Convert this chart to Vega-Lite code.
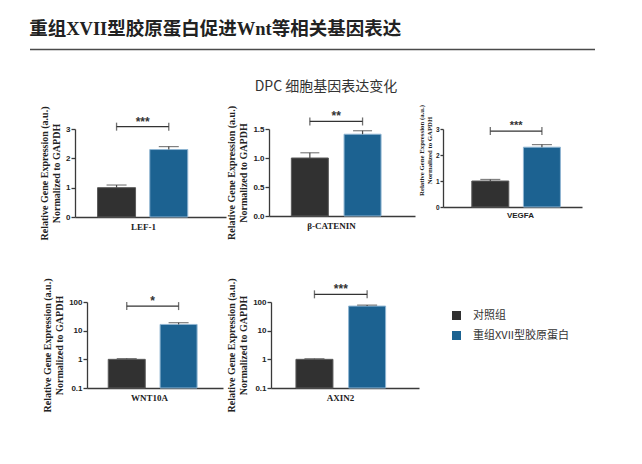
{
  "$schema": "https://vega.github.io/schema/vega-lite/v6.json",
  "background": "white",
  "padding": {"left": 29, "top": 20, "right": 5, "bottom": 5},
  "config": {
    "view": {"stroke": null},
    "font": "Liberation Sans",
    "axis": {"domainColor": "#3a3a3a", "domainWidth": 1.3, "tickColor": "#3a3a3a", "tickWidth": 1.3, "grid": false, "labelColor": "#222222", "titleColor": "#222222"},
    "axisY": {"tickSize": 4, "labelFont": "Liberation Sans", "labelFontWeight": "bold", "labelFontSize": 8, "labelPadding": 1, "labelOverlap": false, "titleFont": "Liberation Serif", "titleFontWeight": "bold", "titleFontSize": 10, "titleLineHeight": 12, "titlePadding": 4},
    "axisX": {"labels": false, "ticks": false, "titleFont": "Liberation Serif", "titleFontWeight": "bold", "titleFontSize": 9, "titlePadding": 5}
  },
  "datasets": {
    "bars": [
      {"gene": "LEF-1", "group": "对照组", "pos": 1, "value": 1.0, "upper": 1.09},
      {"gene": "LEF-1", "group": "重组XVII型胶原蛋白", "pos": 2, "value": 2.3, "upper": 2.4},
      {"gene": "β-CATENIN", "group": "对照组", "pos": 1, "value": 1.0, "upper": 1.09},
      {"gene": "β-CATENIN", "group": "重组XVII型胶原蛋白", "pos": 2, "value": 1.41, "upper": 1.47},
      {"gene": "VEGFA", "group": "对照组", "pos": 1, "value": 1.0, "upper": 1.06},
      {"gene": "VEGFA", "group": "重组XVII型胶原蛋白", "pos": 2, "value": 2.3, "upper": 2.4},
      {"gene": "WNT10A", "group": "对照组", "pos": 1, "value": 1.0, "upper": 1.06},
      {"gene": "WNT10A", "group": "重组XVII型胶原蛋白", "pos": 2, "value": 16.5, "upper": 19},
      {"gene": "AXIN2", "group": "对照组", "pos": 1, "value": 1.0, "upper": 1.05},
      {"gene": "AXIN2", "group": "重组XVII型胶原蛋白", "pos": 2, "value": 72, "upper": 78}
    ],
    "sig": [
      {"gene": "LEF-1", "x1": 1, "x2": 2, "mid": 1.5, "level": 3.08, "label": "***"},
      {"gene": "β-CATENIN", "x1": 1, "x2": 2, "mid": 1.5, "level": 1.63, "label": "**"},
      {"gene": "VEGFA", "x1": 1, "x2": 2, "mid": 1.5, "level": 2.92, "label": "***"},
      {"gene": "WNT10A", "x1": 1, "x2": 2, "mid": 1.5, "level": 72, "label": "*"},
      {"gene": "AXIN2", "x1": 1, "x2": 2, "mid": 1.5, "level": 185, "label": "***"}
    ]
  },
  "spacing": 29,
  "vconcat": [
    {
      "width": 565,
      "height": 1,
      "title": {"text": "重组XVII型胶原蛋白促进Wnt等相关基因表达", "anchor": "start", "fontSize": 18.5, "font": "Liberation Serif, Noto Sans CJK SC", "fontWeight": "bold", "color": "#222222", "offset": -9, "baseline": "bottom"},
      "data": {"values": [{"a": 0, "b": 1}]},
      "mark": {"type": "rule", "color": "#4a4a4a", "strokeWidth": 1.6},
      "encoding": {
        "x": {"field": "a", "type": "quantitative", "scale": {"domain": [0, 1]}, "axis": null},
        "x2": {"field": "b"}
      }
    },
    {
      "title": {"text": "DPC 细胞基因表达变化", "fontSize": 14, "font": "Noto Sans CJK SC", "fontWeight": "normal", "color": "#333333", "anchor": "middle", "offset": -4, "dx": 20, "baseline": "bottom"},
      "spacing": 38,
      "vconcat": [
        {
          "spacing": 3,
          "resolve": {"scale": {"color": "independent", "stroke": "independent"}, "legend": {"color": "independent", "stroke": "independent"}},
          "hconcat": [
            {"width": 6, "height": 1, "data": {"values": []}, "mark": "point"},
            {
              "spacing": 0,
              "resolve": {"scale": {"color": "independent", "stroke": "independent"}, "legend": {"color": "independent", "stroke": "independent"}},
              "hconcat": [
                {
                  "width": 151, "height": 88,
                  "layer": [
                    {"data": {"name": "bars"}, "transform": [{"filter": "datum.gene === 'LEF-1'"}],
                     "mark": {"type": "bar", "size": 38, "strokeWidth": 1},
                     "encoding": {
                       "x": {"field": "pos", "type": "quantitative", "scale": {"domain": [0.3, 3.0], "nice": false, "zero": false}, "axis": {"title": "LEF-1", "titleX": 68}},
                       "y": {"field": "value", "type": "quantitative", "scale": {"domain": [0, 3], "nice": false}, "axis": {"values": [0, 1, 2, 3], "tickCount": 10, "format": "d", "title": ["Relative Gene Expression (a.u.)", "Normalized to GAPDH"]}},
                       "color": {"field": "group", "type": "nominal", "scale": {"domain": ["对照组", "重组XVII型胶原蛋白"], "range": ["#313131", "#1c6291"]}, "legend": null},
                       "stroke": {"field": "group", "type": "nominal", "scale": {"domain": ["对照组", "重组XVII型胶原蛋白"], "range": ["#5a5a5a", "#8fb5d2"]}, "legend": null}
                     }},
                    {"data": {"name": "bars"}, "transform": [{"filter": "datum.gene === 'LEF-1'"}],
                     "mark": {"type": "rule", "color": "#4a4a4a", "strokeWidth": 1.2},
                     "encoding": {"x": {"field": "pos", "type": "quantitative"}, "y": {"field": "value", "type": "quantitative"}, "y2": {"field": "upper"}}},
                    {"data": {"name": "bars"}, "transform": [{"filter": "datum.gene === 'LEF-1'"}],
                     "mark": {"type": "tick", "orient": "horizontal", "size": 20, "thickness": 1.2, "color": "#4a4a4a"},
                     "encoding": {"x": {"field": "pos", "type": "quantitative"}, "y": {"field": "upper", "type": "quantitative"}}},
                    {"data": {"name": "sig"}, "transform": [{"filter": "datum.gene === 'LEF-1'"}],
                     "mark": {"type": "rule", "color": "#333333", "strokeWidth": 1.3},
                     "encoding": {"x": {"field": "x1", "type": "quantitative"}, "x2": {"field": "x2"}, "y": {"field": "level", "type": "quantitative"}}},
                    {"data": {"name": "sig"}, "transform": [{"filter": "datum.gene === 'LEF-1'"}],
                     "mark": {"type": "tick", "orient": "vertical", "size": 8, "thickness": 1.3, "color": "#333333"},
                     "encoding": {"x": {"field": "x1", "type": "quantitative"}, "y": {"field": "level", "type": "quantitative"}}},
                    {"data": {"name": "sig"}, "transform": [{"filter": "datum.gene === 'LEF-1'"}],
                     "mark": {"type": "tick", "orient": "vertical", "size": 8, "thickness": 1.3, "color": "#333333"},
                     "encoding": {"x": {"field": "x2", "type": "quantitative"}, "y": {"field": "level", "type": "quantitative"}}},
                    {"data": {"name": "sig"}, "transform": [{"filter": "datum.gene === 'LEF-1'"}],
                     "mark": {"type": "text", "fontSize": 12, "fontWeight": "bold", "dy": -5, "color": "#333333", "baseline": "middle"},
                     "encoding": {"x": {"field": "mid", "type": "quantitative"}, "y": {"field": "level", "type": "quantitative"}, "text": {"field": "label"}}}
                  ]
                },
                {
                  "width": 146, "height": 87,
                  "layer": [
                    {"data": {"name": "bars"}, "transform": [{"filter": "datum.gene === 'β-CATENIN'"}],
                     "mark": {"type": "bar", "size": 37, "strokeWidth": 1},
                     "encoding": {
                       "x": {"field": "pos", "type": "quantitative", "scale": {"domain": [0.32, 2.9], "nice": false, "zero": false}, "axis": {"title": "β-CATENIN", "titleX": 62}},
                       "y": {"field": "value", "type": "quantitative", "scale": {"domain": [0, 1.5], "nice": false}, "axis": {"values": [0, 0.5, 1, 1.5], "tickCount": 10, "format": ".1f", "title": ["Relative Gene Expression (a.u.)", "Normalized to GAPDH"]}},
                       "color": {"field": "group", "type": "nominal", "scale": {"domain": ["对照组", "重组XVII型胶原蛋白"], "range": ["#313131", "#1c6291"]}, "legend": null},
                       "stroke": {"field": "group", "type": "nominal", "scale": {"domain": ["对照组", "重组XVII型胶原蛋白"], "range": ["#5a5a5a", "#8fb5d2"]}, "legend": null}
                     }},
                    {"data": {"name": "bars"}, "transform": [{"filter": "datum.gene === 'β-CATENIN'"}],
                     "mark": {"type": "rule", "color": "#4a4a4a", "strokeWidth": 1.2},
                     "encoding": {"x": {"field": "pos", "type": "quantitative"}, "y": {"field": "value", "type": "quantitative"}, "y2": {"field": "upper"}}},
                    {"data": {"name": "bars"}, "transform": [{"filter": "datum.gene === 'β-CATENIN'"}],
                     "mark": {"type": "tick", "orient": "horizontal", "size": 19, "thickness": 1.2, "color": "#4a4a4a"},
                     "encoding": {"x": {"field": "pos", "type": "quantitative"}, "y": {"field": "upper", "type": "quantitative"}}},
                    {"data": {"name": "sig"}, "transform": [{"filter": "datum.gene === 'β-CATENIN'"}],
                     "mark": {"type": "rule", "color": "#333333", "strokeWidth": 1.3},
                     "encoding": {"x": {"field": "x1", "type": "quantitative"}, "x2": {"field": "x2"}, "y": {"field": "level", "type": "quantitative"}}},
                    {"data": {"name": "sig"}, "transform": [{"filter": "datum.gene === 'β-CATENIN'"}],
                     "mark": {"type": "tick", "orient": "vertical", "size": 8, "thickness": 1.3, "color": "#333333"},
                     "encoding": {"x": {"field": "x1", "type": "quantitative"}, "y": {"field": "level", "type": "quantitative"}}},
                    {"data": {"name": "sig"}, "transform": [{"filter": "datum.gene === 'β-CATENIN'"}],
                     "mark": {"type": "tick", "orient": "vertical", "size": 8, "thickness": 1.3, "color": "#333333"},
                     "encoding": {"x": {"field": "x2", "type": "quantitative"}, "y": {"field": "level", "type": "quantitative"}}},
                    {"data": {"name": "sig"}, "transform": [{"filter": "datum.gene === 'β-CATENIN'"}],
                     "mark": {"type": "text", "fontSize": 12, "fontWeight": "bold", "dy": -5, "color": "#333333", "baseline": "middle"},
                     "encoding": {"x": {"field": "mid", "type": "quantitative"}, "y": {"field": "level", "type": "quantitative"}, "text": {"field": "label"}}}
                  ]
                }
              ]
            },
            {
              "width": 139, "height": 78,
              "layer": [
                {"data": {"name": "bars"}, "transform": [{"filter": "datum.gene === 'VEGFA'"}],
                 "mark": {"type": "bar", "size": 37, "strokeWidth": 1},
                 "encoding": {
                   "x": {"field": "pos", "type": "quantitative", "scale": {"domain": [0.18, 2.68], "nice": false, "zero": false}, "axis": {"title": "VEGFA", "titleX": 77, "titleFont": "Liberation Sans", "titleFontSize": 8, "titlePadding": 4}},
                   "y": {"field": "value", "type": "quantitative", "scale": {"domain": [0, 3], "nice": false}, "axis": {"values": [0, 1, 2, 3], "tickCount": 10, "format": "d", "labelFontSize": 6.5, "tickSize": 3, "titleFontSize": 6.8, "titleLineHeight": 8, "titlePadding": 3, "titleY": 21, "title": ["Relative Gene Expression (a.u.)", "Normalized to GAPDH"]}},
                   "color": {"field": "group", "type": "nominal", "scale": {"domain": ["对照组", "重组XVII型胶原蛋白"], "range": ["#313131", "#1c6291"]}, "legend": null},
                   "stroke": {"field": "group", "type": "nominal", "scale": {"domain": ["对照组", "重组XVII型胶原蛋白"], "range": ["#5a5a5a", "#8fb5d2"]}, "legend": null}
                 }},
                {"data": {"name": "bars"}, "transform": [{"filter": "datum.gene === 'VEGFA'"}],
                 "mark": {"type": "rule", "color": "#4a4a4a", "strokeWidth": 1.2},
                 "encoding": {"x": {"field": "pos", "type": "quantitative"}, "y": {"field": "value", "type": "quantitative"}, "y2": {"field": "upper"}}},
                {"data": {"name": "bars"}, "transform": [{"filter": "datum.gene === 'VEGFA'"}],
                 "mark": {"type": "tick", "orient": "horizontal", "size": 20, "thickness": 1.2, "color": "#4a4a4a"},
                 "encoding": {"x": {"field": "pos", "type": "quantitative"}, "y": {"field": "upper", "type": "quantitative"}}},
                {"data": {"name": "sig"}, "transform": [{"filter": "datum.gene === 'VEGFA'"}],
                 "mark": {"type": "rule", "color": "#333333", "strokeWidth": 1.3},
                 "encoding": {"x": {"field": "x1", "type": "quantitative"}, "x2": {"field": "x2"}, "y": {"field": "level", "type": "quantitative"}}},
                {"data": {"name": "sig"}, "transform": [{"filter": "datum.gene === 'VEGFA'"}],
                 "mark": {"type": "tick", "orient": "vertical", "size": 8, "thickness": 1.3, "color": "#333333"},
                 "encoding": {"x": {"field": "x1", "type": "quantitative"}, "y": {"field": "level", "type": "quantitative"}}},
                {"data": {"name": "sig"}, "transform": [{"filter": "datum.gene === 'VEGFA'"}],
                 "mark": {"type": "tick", "orient": "vertical", "size": 8, "thickness": 1.3, "color": "#333333"},
                 "encoding": {"x": {"field": "x2", "type": "quantitative"}, "y": {"field": "level", "type": "quantitative"}}},
                {"data": {"name": "sig"}, "transform": [{"filter": "datum.gene === 'VEGFA'"}],
                 "mark": {"type": "text", "fontSize": 11, "fontWeight": "bold", "dy": -5, "color": "#333333", "baseline": "middle"},
                 "encoding": {"x": {"field": "mid", "type": "quantitative"}, "y": {"field": "level", "type": "quantitative"}, "text": {"field": "label"}}}
              ]
            }
          ]
        },
        {
          "spacing": 3,
          "resolve": {"scale": {"color": "independent", "stroke": "independent"}, "legend": {"color": "independent", "stroke": "independent"}},
          "hconcat": [
            {"width": 9, "height": 1, "data": {"values": []}, "mark": "point"},
            {
              "width": 136, "height": 86,
              "layer": [
                {"data": {"name": "bars"}, "transform": [{"filter": "datum.gene === 'WNT10A'"}],
                 "mark": {"type": "bar", "size": 37, "strokeWidth": 1},
                 "encoding": {
                   "x": {"field": "pos", "type": "quantitative", "scale": {"domain": [0.33, 2.76], "nice": false, "zero": false}, "axis": {"title": "WNT10A", "titleX": 62}},
                   "y": {"field": "value", "type": "quantitative", "scale": {"type": "log", "domain": [0.1, 100], "nice": false}, "axis": {"values": [0.1, 1, 10, 100], "tickCount": 10, "format": "~g", "title": ["Relative Gene Expression (a.u.)", "Normalized to GAPDH"]}},
                   "y2": {"datum": 0.1},
                   "color": {"field": "group", "type": "nominal", "scale": {"domain": ["对照组", "重组XVII型胶原蛋白"], "range": ["#313131", "#1c6291"]}, "legend": null},
                   "stroke": {"field": "group", "type": "nominal", "scale": {"domain": ["对照组", "重组XVII型胶原蛋白"], "range": ["#5a5a5a", "#8fb5d2"]}, "legend": null}
                 }},
                {"data": {"name": "bars"}, "transform": [{"filter": "datum.gene === 'WNT10A'"}],
                 "mark": {"type": "rule", "color": "#4a4a4a", "strokeWidth": 1.2},
                 "encoding": {"x": {"field": "pos", "type": "quantitative"}, "y": {"field": "value", "type": "quantitative"}, "y2": {"field": "upper"}}},
                {"data": {"name": "bars"}, "transform": [{"filter": "datum.gene === 'WNT10A'"}],
                 "mark": {"type": "tick", "orient": "horizontal", "size": 20, "thickness": 1.2, "color": "#4a4a4a"},
                 "encoding": {"x": {"field": "pos", "type": "quantitative"}, "y": {"field": "upper", "type": "quantitative"}}},
                {"data": {"name": "sig"}, "transform": [{"filter": "datum.gene === 'WNT10A'"}],
                 "mark": {"type": "rule", "color": "#333333", "strokeWidth": 1.3},
                 "encoding": {"x": {"field": "x1", "type": "quantitative"}, "x2": {"field": "x2"}, "y": {"field": "level", "type": "quantitative"}}},
                {"data": {"name": "sig"}, "transform": [{"filter": "datum.gene === 'WNT10A'"}],
                 "mark": {"type": "tick", "orient": "vertical", "size": 8, "thickness": 1.3, "color": "#333333"},
                 "encoding": {"x": {"field": "x1", "type": "quantitative"}, "y": {"field": "level", "type": "quantitative"}}},
                {"data": {"name": "sig"}, "transform": [{"filter": "datum.gene === 'WNT10A'"}],
                 "mark": {"type": "tick", "orient": "vertical", "size": 8, "thickness": 1.3, "color": "#333333"},
                 "encoding": {"x": {"field": "x2", "type": "quantitative"}, "y": {"field": "level", "type": "quantitative"}}},
                {"data": {"name": "sig"}, "transform": [{"filter": "datum.gene === 'WNT10A'"}],
                 "mark": {"type": "text", "fontSize": 12, "fontWeight": "bold", "dy": -5, "color": "#333333", "baseline": "middle"},
                 "encoding": {"x": {"field": "mid", "type": "quantitative"}, "y": {"field": "level", "type": "quantitative"}, "text": {"field": "label"}}}
              ]
            },
            {
              "width": 148, "height": 86,
              "layer": [
                {"data": {"name": "bars"}, "transform": [{"filter": "datum.gene === 'AXIN2'"}],
                 "mark": {"type": "bar", "size": 37, "strokeWidth": 1},
                 "encoding": {
                   "x": {"field": "pos", "type": "quantitative", "scale": {"domain": [0.27, 2.89], "nice": false, "zero": false}, "axis": {"title": "AXIN2", "titleX": 69}},
                   "y": {"field": "value", "type": "quantitative", "scale": {"type": "log", "domain": [0.1, 100], "nice": false}, "axis": {"values": [0.1, 1, 10, 100], "tickCount": 10, "format": "~g", "title": ["Relative Gene Expression (a.u.)", "Normalized to GAPDH"]}},
                   "y2": {"datum": 0.1},
                   "color": {"field": "group", "type": "nominal", "scale": {"domain": ["对照组", "重组XVII型胶原蛋白"], "range": ["#313131", "#1c6291"]},
                             "legend": {"orient": "none", "legendX": 180, "legendY": 8, "title": null, "symbolType": "square", "symbolSize": 81, "symbolStrokeWidth": 0, "labelFont": "Noto Sans CJK SC", "labelFontSize": 11, "labelColor": "#333333", "padding": 0, "rowPadding": 8, "labelOffset": 11}},
                   "stroke": {"field": "group", "type": "nominal", "scale": {"domain": ["对照组", "重组XVII型胶原蛋白"], "range": ["#5a5a5a", "#8fb5d2"]}, "legend": null}
                 }},
                {"data": {"name": "bars"}, "transform": [{"filter": "datum.gene === 'AXIN2'"}],
                 "mark": {"type": "rule", "color": "#4a4a4a", "strokeWidth": 1.2},
                 "encoding": {"x": {"field": "pos", "type": "quantitative"}, "y": {"field": "value", "type": "quantitative"}, "y2": {"field": "upper"}}},
                {"data": {"name": "bars"}, "transform": [{"filter": "datum.gene === 'AXIN2'"}],
                 "mark": {"type": "tick", "orient": "horizontal", "size": 20, "thickness": 1.2, "color": "#4a4a4a"},
                 "encoding": {"x": {"field": "pos", "type": "quantitative"}, "y": {"field": "upper", "type": "quantitative"}}},
                {"data": {"name": "sig"}, "transform": [{"filter": "datum.gene === 'AXIN2'"}],
                 "mark": {"type": "rule", "color": "#333333", "strokeWidth": 1.3},
                 "encoding": {"x": {"field": "x1", "type": "quantitative"}, "x2": {"field": "x2"}, "y": {"field": "level", "type": "quantitative"}}},
                {"data": {"name": "sig"}, "transform": [{"filter": "datum.gene === 'AXIN2'"}],
                 "mark": {"type": "tick", "orient": "vertical", "size": 8, "thickness": 1.3, "color": "#333333"},
                 "encoding": {"x": {"field": "x1", "type": "quantitative"}, "y": {"field": "level", "type": "quantitative"}}},
                {"data": {"name": "sig"}, "transform": [{"filter": "datum.gene === 'AXIN2'"}],
                 "mark": {"type": "tick", "orient": "vertical", "size": 8, "thickness": 1.3, "color": "#333333"},
                 "encoding": {"x": {"field": "x2", "type": "quantitative"}, "y": {"field": "level", "type": "quantitative"}}},
                {"data": {"name": "sig"}, "transform": [{"filter": "datum.gene === 'AXIN2'"}],
                 "mark": {"type": "text", "fontSize": 12, "fontWeight": "bold", "dy": -5, "color": "#333333", "baseline": "middle"},
                 "encoding": {"x": {"field": "mid", "type": "quantitative"}, "y": {"field": "level", "type": "quantitative"}, "text": {"field": "label"}}}
              ]
            }
          ]
        }
      ]
    }
  ]
}
